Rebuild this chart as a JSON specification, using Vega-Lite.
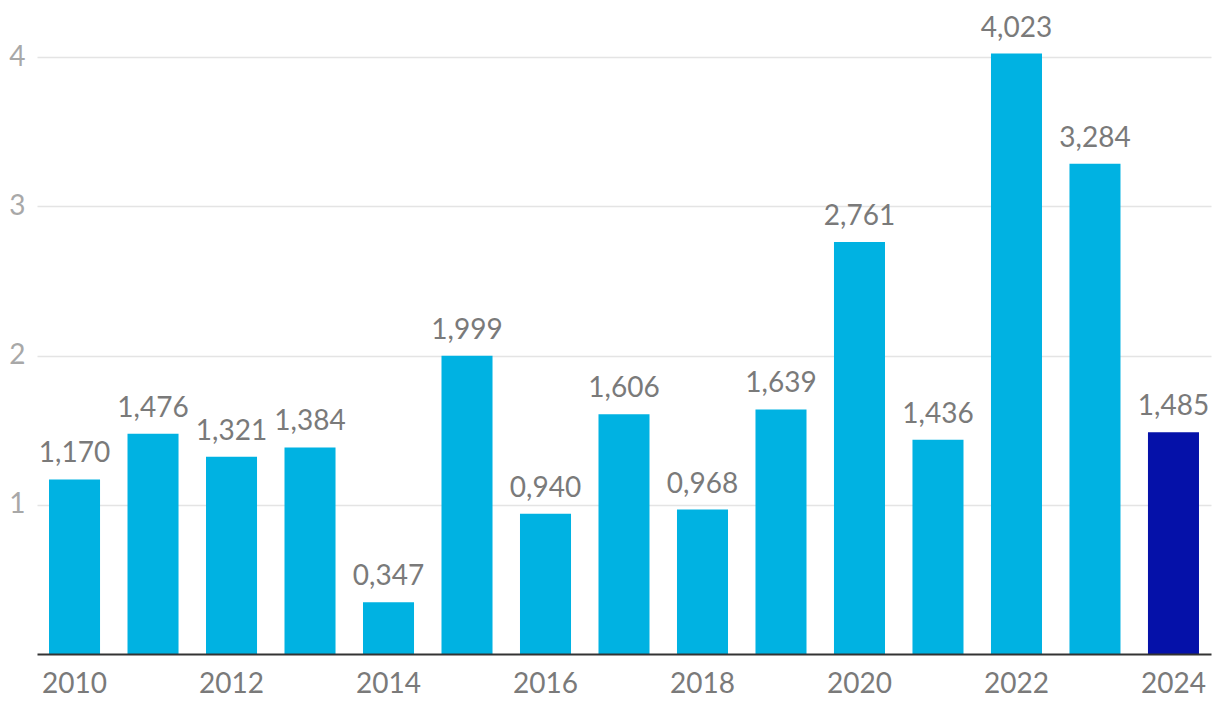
{
  "$schema": "https://vega.github.io/schema/vega-lite/v6.json",
  "width": 1174,
  "height": 654,
  "autosize": "none",
  "padding": {"left": 37, "top": 0, "right": 9, "bottom": 62},
  "background": "white",
  "config": {
    "font": "Lato",
    "view": {"stroke": null},
    "locale": {"number": {"decimal": ",", "thousands": ".", "grouping": [3], "currency": ["", ""]}}
  },
  "data": {
    "values": [
      {"year": 2010, "value": 1.170},
      {"year": 2011, "value": 1.476},
      {"year": 2012, "value": 1.321},
      {"year": 2013, "value": 1.384},
      {"year": 2014, "value": 0.347},
      {"year": 2015, "value": 1.999},
      {"year": 2016, "value": 0.940},
      {"year": 2017, "value": 1.606},
      {"year": 2018, "value": 0.968},
      {"year": 2019, "value": 1.639},
      {"year": 2020, "value": 2.761},
      {"year": 2021, "value": 1.436},
      {"year": 2022, "value": 4.023},
      {"year": 2023, "value": 3.284},
      {"year": 2024, "value": 1.485}
    ]
  },
  "encoding": {
    "x": {
      "field": "year",
      "type": "ordinal",
      "scale": {"paddingInner": 0.35, "paddingOuter": 0.153},
      "axis": {
        "title": null,
        "values": [2010, 2012, 2014, 2016, 2018, 2020, 2022, 2024],
        "labelAngle": 0,
        "ticks": false,
        "domainColor": "#333333",
        "domainWidth": 2,
        "labelFontSize": 28,
        "labelColor": "#7a7a7a",
        "labelBaseline": "alphabetic",
        "labelPadding": 38,
        "zindex": 1
      }
    },
    "y": {
      "field": "value",
      "type": "quantitative",
      "scale": {"domain": [0, 4.382], "nice": false, "zero": true},
      "axis": {
        "title": null,
        "values": [1, 2, 3, 4],
        "domain": false,
        "ticks": false,
        "gridColor": "#e4e4e4",
        "gridWidth": 1.5,
        "labelFontSize": 28,
        "labelColor": "#a8a8a8",
        "labelPadding": 12,
        "format": "d"
      }
    }
  },
  "layer": [
    {
      "mark": {"type": "bar"},
      "encoding": {
        "color": {
          "condition": {"test": "datum.year == 2024", "value": "#0511a9"},
          "value": "#00b2e2"
        }
      }
    },
    {
      "mark": {"type": "text", "baseline": "alphabetic", "dy": -17, "fontSize": 28, "color": "#7a7a7a"},
      "encoding": {
        "text": {"field": "value", "type": "quantitative", "format": ".3f"}
      }
    }
  ]
}
